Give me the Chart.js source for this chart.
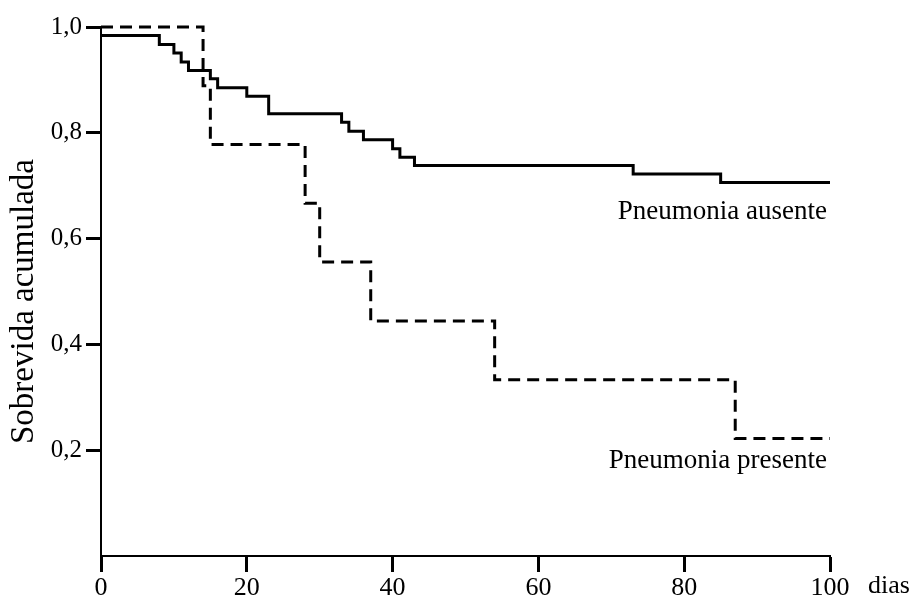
<!DOCTYPE html>
<html>
<head>
<meta charset="utf-8">
<script src="https://cdn.jsdelivr.net/npm/chart.js@4"></script>
<style>
  body { margin: 0; background: #fff; }
  #wrap { width: 915px; height: 605px; }
</style>
</head>
<body>
<div id="wrap"><canvas id="km"></canvas></div>
<script>
// Kaplan-Meier curves (time in days, cumulative survival)
const ausenteDias = [0, 8, 10, 11, 12, 15, 16, 20, 23, 33, 34, 36, 40, 41, 43, 73, 85, 100];
const ausenteSobrevida = [0.984, 0.967, 0.951, 0.934, 0.918, 0.902, 0.885, 0.869, 0.836, 0.820, 0.803, 0.787, 0.770, 0.754, 0.738, 0.722, 0.706, 0.706];

const presenteDias = [0, 14, 15, 28, 30, 37, 54, 87, 100];
const presenteSobrevida = [1.0, 0.889, 0.778, 0.667, 0.556, 0.444, 0.333, 0.222, 0.222];

const xTicks = [0, 20, 40, 60, 80, 100];
const yTicks = [0.2, 0.4, 0.6, 0.8, 1.0];

const serif = 'Liberation Serif';

const toPoints = (xs, ys) => xs.map((x, i) => ({ x: x, y: ys[i] }));

// extra texts: curve names, axis title and the "dias" unit
const annotations = {
    id: 'annotations',
    afterDraw(chart) {
        const c = chart.ctx;
        const xs = chart.scales.x, ys = chart.scales.y;
        const area = chart.chartArea;
        c.save();
        c.fillStyle = '#000';
        c.font = '27px "' + serif + '"';
        c.textAlign = 'right';
        c.textBaseline = 'middle';
        c.fillText('Pneumonia ausente', xs.getPixelForValue(100) - 3, ys.getPixelForValue(0.65));
        c.fillText('Pneumonia presente', xs.getPixelForValue(100) - 3, ys.getPixelForValue(0.18));

        c.font = '26px "' + serif + '"';
        c.textAlign = 'left';
        c.fillText('dias', area.right + 38, area.bottom + 30);

        c.font = '33px "' + serif + '"';
        c.translate(24, (area.top + area.bottom) / 2 + 10);
        c.rotate(-Math.PI / 2);
        c.textAlign = 'center';
        c.fillText('Sobrevida acumulada', 0, 0);
        c.restore();
    }
};

new Chart(document.getElementById('km'), {
    type: 'line',
    data: {
        datasets: [{
            label: 'Pneumonia ausente',
            data: toPoints(ausenteDias, ausenteSobrevida),
            stepped: 'before',
            borderColor: '#000',
            borderWidth: 3,
            pointRadius: 0,
            fill: false,
            clip: false
        }, {
            label: 'Pneumonia presente',
            data: toPoints(presenteDias, presenteSobrevida),
            stepped: 'before',
            borderColor: '#000',
            borderWidth: 3,
            borderDash: [12, 7],
            pointRadius: 0,
            fill: false,
            clip: false
        }]
    },
    options: {
        responsive: true,
        maintainAspectRatio: false,
        animation: false,
        layout: { padding: { top: 27, right: 85, left: 0, bottom: 0 } },
        plugins: {
            legend: { display: false },
            tooltip: { enabled: false }
        },
        scales: {
            x: {
                type: 'linear',
                min: 0,
                max: 100,
                afterFit: s => { s.height = 49; },
                afterBuildTicks: s => { s.ticks = xTicks.map(v => ({ value: v })); },
                border: { display: true, color: '#000', width: 2 },
                grid: { drawOnChartArea: false, tickLength: 16, tickWidth: 3, tickColor: '#000' },
                ticks: {
                    color: '#000',
                    padding: 1,
                    maxRotation: 0,
                    font: { family: serif, size: 26 }
                }
            },
            y: {
                type: 'linear',
                min: 0,
                max: 1,
                afterFit: s => { s.width = 101; },
                afterBuildTicks: s => { s.ticks = yTicks.map(v => ({ value: v })); },
                border: { display: true, color: '#000', width: 2 },
                grid: { drawOnChartArea: false, tickLength: 15, tickWidth: 3, tickColor: '#000' },
                ticks: {
                    color: '#000',
                    padding: 4,
                    font: { family: serif, size: 25 },
                    callback: v => v.toFixed(1).replace('.', ',')
                }
            }
        }
    },
    plugins: [annotations]
});
</script>
</body>
</html>
